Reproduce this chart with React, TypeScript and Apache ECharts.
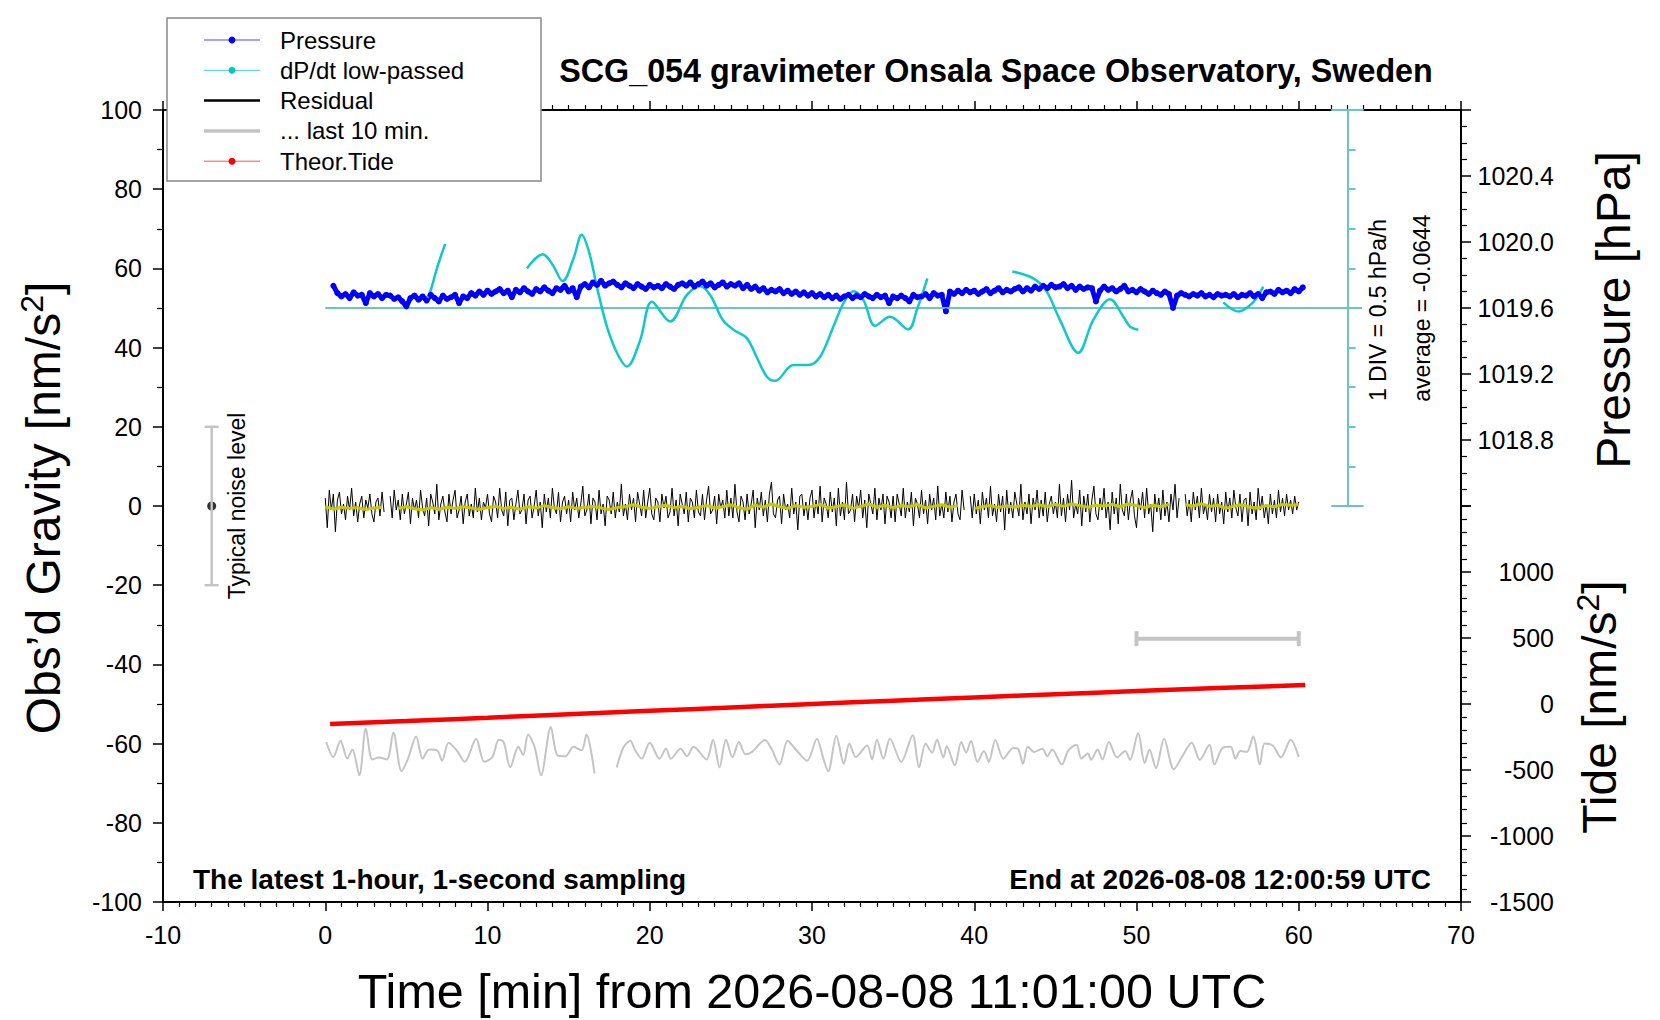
import { useEffect, useRef } from "react";
import * as echarts from "echarts";

const FONT = "Liberation Sans";

// residual, 1 value per 7.5 s (null = data gap)
const RESID_STEP = 0.125;
const residual: (number | null)[] = [
  2, -5.5, 4, -1, 3, -6.5, 1.5, 3.5, -2, 0.5, -3.5, 2.5, -1, 4.5, -2.5, 1, -4, 0.5, 2.5, -3, 1.5, -0.5, 3, -2, -4, 1, 2, -2.5, 3.5, -1.5, null, null, 2.5, -3, 4, -1, 1.5, -3.5, 3, -2,
  0.5, 3.5, -4.5, 2, -1, 1.5, -3, 4, -0.5, -2.5, 2, -5, 3, 1, -2, 5.5, -3.5, 0.5, 2.5, -1.5, -4, 3, -2, 1.5, 4, -3, -1, 2.5, -4.5, 1, 3, -2.5, 0.5, -3, 4.5, -1.5, 2, -3.5, 1, -0.5,
  3, -2, -4, 2.5, 1, -3, 4.5, -1, -2.5, 3.5, -5, 1.5, 2, -3.5, 0.5, 4, -2, -1, 3, -4.5, 1.5, 2.5, -3, 0, 4, -2.5, 1, -5.5, 3, -1.5, 2, -3, 4.5, -0.5, -2, 3.5, -4, 1, 2.5, -2,
  1.5, -4, 3.5, -1, 2, -3, 0.5, 5, -2.5, -1, 3, -4.5, 2, 1, -3.5, 4, -2, 0.5, -5, 2.5, 1.5, -2, 3.5, -3, 1, -1.5, 5.5, -2.5, 0.5, -3.5, 3, -1, 2, -4, 3.5, 0.5, -2.5, 4, -3, 1,
  4.5, -2, -3.5, 2, 1, -4, 3, -0.5, 2.5, -3, -1.5, 4.5, -2.5, 1.5, -5, 3, 0.5, -2, 3.5, -4, 2, 1, -3, 4, -1.5, -2.5, 3, -3.5, 1.5, 5, -2, -1, 2.5, -4.5, 3, -0.5, 1.5, -3, 4, -2.5,
  2, -3, 5.5, -1.5, -4, 2.5, 1, -3.5, 3, -2, 0.5, 4, -5.5, 2, -1, 3.5, -2.5, 1.5, -4, 3, 6, -2, -3, 1.5, 2.5, -4.5, 3, -1, 0.5, -3, 4.5, -2, 1, -6, 2.5, 3, -2.5, 1, -3.5, 2,
  4, -3, 1.5, -2, 5, -4, 2, 0.5, -3, 3.5, -1.5, 2, -5, 4.5, -2.5, 1, -3.5, 6, -2, -1, 3, -4, 2.5, -0.5, 4, -3, 1.5, -5.5, 3, 0.5, -2, 4.5, -3.5, 2, -1, 3, -4.5, 2.5, 1, -3,
  2.5, -4, 3, 0.5, -2.5, 4.5, -3, 1, -1.5, 3.5, -5, 2, 0.5, -3, 4, -2, 1.5, -4.5, 3, -1, 2, -3.5, 5, -2.5, 0.5, -3, 3.5, -1.5, 2.5, -4, 1, 3, -2, -3.5, 4, -1, null, null, 2.5, -3,
  3, -2, 1.5, -4.5, 3.5, -1, 2, -3, 5, -2.5, 0.5, -4, 3, -1.5, 2.5, -6, 4, -2, 1, -3, 3.5, 0.5, -2.5, 5.5, -3.5, 1, -2, 3, -4.5, 2, -1, 4, -3, 1.5, -2.5, 3.5, -4, 0.5, 2.5, -2,
  1, -3, 5.5, -2.5, 2, -4, 3, -1, 6.5, -3, 0.5, -2, 4, -5, 2.5, -1.5, 3, -4, 1.5, 5, -2, -3.5, 2, -1, 4.5, -3, 1, -6, 3.5, -2, 2, -4.5, 5.5, -1, -2.5, 3, -3.5, 1.5, 4, -2.5,
  -5.5, 2, -1, 3.5, -3, 4.5, -2, 0.5, -6.5, 3, -1.5, 2, -3.5, 4, -2.5, 1, -4, 3, -1, 5.5, -3, 2, null, null, 3, -2.5, 1.5, -4, 3.5, -1, 2.5, -3, 4.5, -2, 0.5, -3.5, 3, -1.5, 2, -4,
  3, -2, 1, -4.5, 3.5, -1.5, 2, -3, 4, -0.5, -2.5, 3, -4, 1.5, 2, -5, 3.5, -2, 1, -3.5, 4.5, -1, 2.5, -3, 0.5, -4.5, 3, -2, 1.5, -3, 4, -1.5, 2, -2.5, 3, -1, 1.5, -2, 2.5, -1,
  1,
];

// low-passed residual, 1 value per 30 s
const SMOOTH_STEP = 0.5;
const residualSmooth: (number | null)[] = [
  -0.2, -0.8, -0.3, -0.6, -0.4, -0.9, -0.5, -0.3, null, -0.6, -0.2, -0.7, -1.0, -0.4, -0.8, -0.3, -0.6, -0.2, -0.5, -0.9,
  -0.4, -0.1, -0.6, -0.3, -0.8, -0.2, -0.5, 0.1, -0.4, -0.7, -0.2, -0.6, -0.3, -0.1, -0.5, -0.9, -0.4, -0.2, 0.3, -0.3,
  -0.6, -0.2, 0.2, -0.4, -0.1, -0.7, -0.3, 0.1, -0.5, -0.2, 0.3, -0.4, -0.8, 0.2, -0.3, 0.5, -0.2, -0.6, 0.1, -0.3,
  -0.1, 0.4, -0.5, -0.2, 0.3, -0.6, -0.1, 0.5, -0.3, 0.2, -0.4, 0.1, -0.2, 0.4, -0.5, -0.1, 0.3, -0.3, 0.1, null,
  -0.6, -0.2, 0.1, -0.4, 0.0, -0.3, 0.2, -0.1, 0.3, -0.2, 0.4, -0.1, 0.5, 0.1, -0.3, 0.2, 0.0, 0.4, -0.2, 0.5,
  0.1, -0.4, 0.2, -0.2, 0.4, null, 0.3, 0.0, 0.6, -0.1, 0.2, -0.6, 0.0, 0.3, -0.3, -0.5, 0.1, -0.2, 0.4, 0.2,
  0.3,
];

// air pressure [hPa], from 0.5 min every 15 s
const PRESS_START = 0.5;
const PRESS_STEP = 0.25;
const pressure: number[] = [
  1019.735, 1019.69, 1019.67, 1019.685, 1019.66, 1019.695, 1019.675, 1019.68, 1019.63, 1019.69, 1019.67, 1019.685, 1019.66, 1019.68, 1019.675, 1019.655, 1019.665, 1019.64, 1019.61, 1019.66,
  1019.675, 1019.65, 1019.67, 1019.645, 1019.68, 1019.66, 1019.64, 1019.675, 1019.655, 1019.665, 1019.68, 1019.63, 1019.67, 1019.66, 1019.69, 1019.675, 1019.7, 1019.68, 1019.705, 1019.685,
  1019.7, 1019.715, 1019.69, 1019.705, 1019.665, 1019.71, 1019.695, 1019.72, 1019.7, 1019.685, 1019.715, 1019.7, 1019.725, 1019.705, 1019.69, 1019.72, 1019.71, 1019.735, 1019.7, 1019.72,
  1019.665, 1019.73, 1019.745, 1019.725, 1019.755, 1019.74, 1019.765, 1019.735, 1019.75, 1019.76, 1019.74, 1019.725, 1019.75, 1019.735, 1019.72, 1019.745, 1019.73, 1019.715, 1019.74, 1019.725,
  1019.735, 1019.72, 1019.745, 1019.73, 1019.715, 1019.74, 1019.75, 1019.735, 1019.755, 1019.73, 1019.745, 1019.76, 1019.735, 1019.75, 1019.725, 1019.74, 1019.755, 1019.73, 1019.745, 1019.735,
  1019.75, 1019.72, 1019.74, 1019.715, 1019.73, 1019.705, 1019.72, 1019.695, 1019.71, 1019.7, 1019.715, 1019.69, 1019.705, 1019.685, 1019.7, 1019.68, 1019.695, 1019.675, 1019.69, 1019.67,
  1019.685, 1019.665, 1019.68, 1019.66, 1019.675, 1019.655, 1019.67, 1019.68, 1019.66, 1019.675, 1019.665, 1019.685, 1019.67, 1019.66, 1019.68, 1019.665, 1019.675, 1019.63, 1019.67, 1019.66,
  1019.675, 1019.66, 1019.64, 1019.68, 1019.665, 1019.67, 1019.685, 1019.66, 1019.69, 1019.675, 1019.68, 1019.58, 1019.7, 1019.685, 1019.705, 1019.69, 1019.71, 1019.695, 1019.705, 1019.685,
  1019.7, 1019.715, 1019.69, 1019.705, 1019.72, 1019.695, 1019.71, 1019.7, 1019.715, 1019.725, 1019.7, 1019.72, 1019.705, 1019.73, 1019.715, 1019.735, 1019.72, 1019.74, 1019.725, 1019.73,
  1019.745, 1019.72, 1019.735, 1019.71, 1019.73, 1019.715, 1019.725, 1019.72, 1019.64, 1019.705, 1019.73, 1019.71, 1019.72, 1019.7, 1019.715, 1019.735, 1019.7, 1019.71, 1019.695, 1019.715,
  1019.7, 1019.685, 1019.705, 1019.69, 1019.68, 1019.7, 1019.685, 1019.6, 1019.675, 1019.69, 1019.68, 1019.67, 1019.685, 1019.675, 1019.69, 1019.67, 1019.68, 1019.665, 1019.685, 1019.675,
  1019.68, 1019.67, 1019.685, 1019.665, 1019.68, 1019.675, 1019.69, 1019.67, 1019.685, 1019.66, 1019.695, 1019.7, 1019.685, 1019.71, 1019.695, 1019.705, 1019.69, 1019.715, 1019.7, 1019.725,
];

// dP/dt low-passed, drawn on the gravity scale around the 50 baseline
const dpdtSegments: [number, number][][] = [
  [[6.2, 51.5], [6.47, 54.1], [6.92, 60.5], [7.39, 66.2]],
  [
    [12.43, 60.0], [13.41, 63.6], [14.0, 61.0], [14.64, 56.8], [15.3, 62.5], [15.81, 68.5], [16.3, 63.5],
    [16.74, 55.4], [17.36, 45.3], [18.0, 38.5], [18.59, 35.2], [19.41, 41.9], [20.13, 51.6], [21.26, 46.6],
    [22.29, 53.3], [23.1, 55.5], [23.72, 53.3], [24.5, 47.0], [25.16, 44.5], [25.98, 42.4], [26.6, 37.5],
    [27.21, 32.7], [27.73, 31.6], [28.85, 35.6], [29.78, 35.6], [30.5, 37.7], [31.32, 45.3], [31.94, 51.2],
    [32.55, 54.2], [33.17, 52.0], [33.89, 45.5], [34.81, 47.8], [35.94, 44.6], [36.46, 49.5], [37.11, 57.5],
  ],
  [
    [42.35, 59.2], [43.64, 57.5], [44.46, 54.2], [45.28, 47.0], [46.41, 38.7], [47.34, 47.0],
    [48.37, 52.2], [49.19, 47.8], [49.6, 45.3], [50.11, 44.5],
  ],
  [[55.35, 51.4], [56.27, 49.1], [57.2, 51.5], [57.81, 55.4]],
];

// residual over the last 10 min, drawn offset at -60
const lastTenA: [number, number][] = [
  [0.06, -59.6], [0.5, -63.4], [0.94, -59.3], [1.36, -63.8], [1.67, -61.5], [2.1, -68], [2.5, -56.2], [2.9, -64],
  [3.3, -63.5], [3.8, -64], [4.2, -57.2], [4.7, -67], [5.1, -63.8], [5.6, -58.2], [6.0, -63.8], [6.4, -61.5],
  [6.9, -61.7], [7.2, -64.3], [7.6, -59.8], [8.1, -61.7], [8.6, -64.6], [9.3, -58.8], [9.8, -64.6], [10.3, -63.4],
  [10.7, -59], [11.0, -59.6], [11.4, -66], [11.9, -60.8], [12.2, -62.9], [12.5, -57.7], [12.9, -60.8], [13.3, -68],
  [13.9, -55.8], [14.3, -62.9], [14.8, -63.2], [15.3, -60.8], [15.8, -61.7], [16.1, -57.7], [16.6, -67.6],
];
const lastTenB: [number, number][] = [
  [17.96, -66], [18.4, -60.8], [18.8, -59.3], [19.1, -61.7], [19.5, -63.8], [20.0, -59.8], [20.6, -63.8], [21.0, -61.3],
  [21.3, -63.8], [21.9, -61.3], [22.3, -63.2], [22.7, -60.8], [23.5, -64], [23.9, -59], [24.3, -66], [24.7, -59],
  [25.1, -63.4], [25.5, -59.6], [25.9, -62.7], [26.3, -62.1], [27.1, -59.1], [27.5, -61.3], [28.0, -65.3], [28.5, -59.3],
  [29.0, -61.5], [29.7, -64.3], [30.3, -58.8], [30.7, -63.8], [31.0, -67], [31.5, -58], [31.96, -65.1], [32.3, -60],
  [32.7, -63.4], [33.4, -60.5], [33.7, -64], [34.0, -59], [34.4, -63.8], [34.8, -58.8], [35.5, -64.6], [36.2, -57.9],
  [36.6, -66], [37.0, -60], [37.4, -62.3], [37.7, -59], [38.1, -63.5], [38.3, -60.7], [38.8, -65.5], [39.2, -59.6],
  [39.5, -62.3], [39.8, -59.3], [40.2, -64.6], [40.6, -61.9], [40.9, -64.6], [41.3, -59.1], [41.8, -63.8], [42.4, -61.1],
  [42.7, -61.3], [43.0, -65.1], [43.3, -60.8], [43.7, -62.1], [44.2, -61.3], [44.5, -63.2], [44.8, -61.5], [45.4, -65.3],
  [45.8, -61.7], [46.3, -60.3], [46.6, -63.8], [47.0, -62.5], [47.2, -64.1], [47.6, -61.5], [47.9, -64], [48.3, -59.6],
  [48.8, -63.5], [49.3, -61.9], [49.6, -64.1], [50.1, -57.3], [50.5, -64.9], [50.8, -61.5], [51.2, -66.2], [51.7, -58.8],
  [52.3, -66.5], [52.8, -63.4], [53.4, -59.8], [53.9, -64.1], [54.5, -60.3], [54.8, -65.3], [55.3, -61.1], [55.8, -60.8],
  [56.1, -63.8], [56.4, -61.9], [56.8, -62.1], [57.2, -58.2], [57.6, -65.3], [57.9, -60], [58.4, -60.5], [58.9, -63.5],
  [59.5, -59], [60.0, -63.4],
];

// theoretical tide [nm/s2]
const tideTimes = [0.3, 5, 10, 15, 20, 25, 30, 35, 40, 45, 50, 55, 60.4];
const tideValues = [-152, -129, -104, -78, -52, -26, 0, 25, 50, 74, 98, 121, 144];

const divTicks = [10, 20, 30, 40, 50, 60, 70, 80, 90];

const legendItems = [
  { label: "Pressure", line: "#4a4aff", width: 1, dot: "#0000ff" },
  { label: "dP/dt low-passed", line: "#40d0d0", width: 1, dot: "#00c8c8" },
  { label: "Residual", line: "#000000", width: 2.5, dot: "" },
  { label: "... last 10 min.", line: "#c4c4c4", width: 3.5, dot: "" },
  { label: "Theor.Tide", line: "#ff5050", width: 1, dot: "#ff0000" },
];

const GRID = { left: 163, right: 199 };
const LABEL_SIZE = 25;

function baseX(gridIndex: number, position: "bottom" | "top", show: boolean) {
  return {
    type: "value" as const,
    gridIndex,
    position,
    show,
    min: -10,
    max: 70,
    interval: 10,
    axisLine: { onZero: false, lineStyle: { color: "#000", width: 2 } },
    axisTick: { show: true, inside: false, length: 9, lineStyle: { color: "#000", width: 1.5 } },
    minorTick: { show: true, splitNumber: 10, length: 5, lineStyle: { color: "#000", width: 1.2 } },
    axisLabel: {
      show: position === "bottom",
      margin: 20,
      color: "#000",
      fontSize: LABEL_SIZE,
      fontFamily: FONT,
    },
    splitLine: { show: false },
  };
}

function buildOption(): echarts.EChartsOption {
  const seg = (x1: number, y1: number, x2: number, y2: number) => [
    { coord: [x1, y1] },
    { coord: [x2, y2] },
  ];
  const scaleLines = [
    seg(63, 0, 63, 100),
    seg(62, 100, 64, 100),
    seg(62, 0, 64, 0),
    ...divTicks.map((v) => seg(63, v, 63.5, v)),
  ];

  const axisCommonY = {
    axisLine: { show: true, onZero: false, lineStyle: { color: "#000", width: 2 } },
    axisTick: { show: true, inside: false, length: 10, lineStyle: { color: "#000", width: 1.5 } },
    splitLine: { show: false },
  };

  const txt = (
    text: string,
    x: number,
    y: number,
    size: number,
    opts: Record<string, unknown> = {},
  ) => ({
    type: "text",
    x,
    y,
    z: 50,
    rotation: (opts.rotation as number) ?? 0,
    style: {
      text,
      fontSize: size,
      fontFamily: FONT,
      fontWeight: (opts.weight as string) ?? "normal",
      fill: "#000",
      align: (opts.align as string) ?? "center",
      verticalAlign: "middle",
      rich: opts.rich,
    },
  });

  const legendGraphics: any[] = [
    {
      type: "rect",
      z: 90,
      shape: { x: 167, y: 18, width: 374, height: 163 },
      style: { fill: "#fff", stroke: "#888", lineWidth: 1.5 },
    },
  ];
  legendItems.forEach((item, i) => {
    const y = 40 + i * 30.3;
    legendGraphics.push({
      type: "line",
      z: 91,
      shape: { x1: 204, y1: y, x2: 260, y2: y },
      style: { stroke: item.line, lineWidth: item.width },
    });
    if (item.dot) {
      legendGraphics.push({
        type: "circle",
        z: 92,
        shape: { cx: 232, cy: y, r: 3.5 },
        style: { fill: item.dot },
      });
    }
    legendGraphics.push({
      type: "text",
      z: 92,
      x: 280,
      y,
      style: {
        text: item.label,
        fontSize: 24,
        fontFamily: FONT,
        fill: "#000",
        align: "left",
        verticalAlign: "middle",
      },
    });
  });

  const supRich = (big: number, small: number) => ({
    a: { fontSize: big, fontFamily: FONT, lineHeight: big + 6, fill: "#000" },
    s: { fontSize: small, fontFamily: FONT, lineHeight: small, verticalAlign: "top", fill: "#000" },
  });

  return {
    animation: false,
    backgroundColor: "#fff",
    textStyle: { fontFamily: FONT },
    grid: [
      { ...GRID, top: 110, height: 792 },
      { ...GRID, top: 110, height: 396 },
      { ...GRID, top: 506, height: 396 },
    ],
    xAxis: [
      baseX(0, "bottom", true),
      baseX(0, "top", true),
      baseX(1, "bottom", false),
      baseX(2, "bottom", false),
    ] as any,
    yAxis: [
      {
        type: "value",
        gridIndex: 0,
        position: "left",
        min: -100,
        max: 100,
        interval: 20,
        ...axisCommonY,
        minorTick: { show: true, splitNumber: 2, length: 6, lineStyle: { color: "#000", width: 1.2 } },
        axisLabel: { margin: 21, color: "#000", fontSize: LABEL_SIZE, fontFamily: FONT },
      },
      {
        type: "value",
        gridIndex: 1,
        position: "right",
        min: 1018.4,
        max: 1020.8,
        interval: 0.4,
        ...axisCommonY,
        minorTick: { show: true, splitNumber: 4, length: 6, lineStyle: { color: "#000", width: 1.2 } },
        axisLabel: {
          margin: 93,
          align: "right",
          color: "#000",
          fontSize: LABEL_SIZE,
          fontFamily: FONT,
          formatter: (v: number) => (v > 1018.6 && v < 1020.6 ? v.toFixed(1) : ""),
        },
      },
      {
        type: "value",
        gridIndex: 2,
        position: "right",
        min: -1500,
        max: 1500,
        interval: 500,
        ...axisCommonY,
        minorTick: { show: true, splitNumber: 5, length: 6, lineStyle: { color: "#000", width: 1.2 } },
        axisLabel: {
          margin: 93,
          align: "right",
          color: "#000",
          fontSize: LABEL_SIZE,
          fontFamily: FONT,
          formatter: (v: number) => (v <= 1000 ? String(Math.round(v)) : ""),
        },
      },
    ] as any,
    series: [
      {
        name: "... last 10 min.",
        type: "line",
        xAxisIndex: 0,
        yAxisIndex: 0,
        data: lastTenA,
        smooth: 0.3,
        showSymbol: false,
        symbol: "none",
        lineStyle: { color: "#c4c4c4", width: 2 },
      },
      {
        name: "... last 10 min.",
        type: "line",
        xAxisIndex: 0,
        yAxisIndex: 0,
        data: lastTenB,
        smooth: 0.3,
        showSymbol: false,
        symbol: "none",
        lineStyle: { color: "#c4c4c4", width: 2 },
      },
      {
        name: "10 min bar",
        type: "line",
        xAxisIndex: 0,
        yAxisIndex: 0,
        data: [
          [50, -33.5],
          [60, -33.5],
        ],
        symbol: "rect",
        symbolSize: [4, 15],
        itemStyle: { color: "#c4c4c4" },
        lineStyle: { color: "#c4c4c4", width: 4 },
      },
      {
        name: "Typical noise level",
        type: "line",
        xAxisIndex: 0,
        yAxisIndex: 0,
        data: [
          [-7, 20],
          [-7, -20],
        ],
        symbol: "rect",
        symbolSize: [14, 2.5],
        itemStyle: { color: "#c4c4c4" },
        lineStyle: { color: "#c4c4c4", width: 2.5 },
      },
      {
        name: "noise centre",
        type: "scatter",
        xAxisIndex: 0,
        yAxisIndex: 0,
        data: [[-7, 0]],
        symbolSize: 9,
        itemStyle: { color: "#000" },
      },
      {
        name: "Theor.Tide",
        type: "line",
        xAxisIndex: 3,
        yAxisIndex: 2,
        data: tideTimes.map((t, i) => [t, tideValues[i]]),
        smooth: true,
        showSymbol: false,
        symbol: "none",
        lineStyle: { color: "#ff0000", width: 4.5 },
      },
      {
        name: "Residual",
        type: "line",
        xAxisIndex: 0,
        yAxisIndex: 0,
        data: residual.map((v, i) => [i * RESID_STEP, v === null ? "-" : v]),
        showSymbol: false,
        symbol: "none",
        lineStyle: { color: "#000", width: 1 },
      },
      {
        name: "Residual low-passed",
        type: "line",
        xAxisIndex: 0,
        yAxisIndex: 0,
        data: residualSmooth.map((v, i) => [i * SMOOTH_STEP, v === null ? "-" : v]),
        showSymbol: false,
        symbol: "none",
        lineStyle: { color: "#c8c800", width: 3 },
      },
      {
        name: "Pressure",
        type: "line",
        xAxisIndex: 2,
        yAxisIndex: 1,
        data: pressure.map((p, i) => [PRESS_START + i * PRESS_STEP, p]),
        symbol: "circle",
        showSymbol: true,
        symbolSize: 6,
        itemStyle: { color: "#0000ff" },
        lineStyle: { color: "#0000ff", width: 5 },
      },
      {
        name: "dP/dt baseline",
        type: "line",
        xAxisIndex: 0,
        yAxisIndex: 0,
        data: [
          [0, 50],
          [63.9, 50],
        ],
        showSymbol: false,
        symbol: "none",
        lineStyle: { color: "#6cc4c4", width: 2 },
        markLine: {
          silent: true,
          symbol: ["none", "none"],
          label: { show: false },
          lineStyle: { color: "#6cc4c4", width: 2, type: "solid" },
          data: scaleLines as any,
        },
      },
      ...dpdtSegments.map((s) => ({
        name: "dP/dt low-passed",
        type: "line" as const,
        xAxisIndex: 0,
        yAxisIndex: 0,
        data: s,
        smooth: 0.35,
        showSymbol: false,
        symbol: "none",
        lineStyle: { color: "#10c8c8", width: 2.5 },
      })),
    ] as any,
    graphic: [
      txt("SCG_054 gravimeter Onsala Space Observatory, Sweden", 996, 71, 32.3, { weight: "bold" }),
      txt("The latest 1-hour, 1-second sampling", 193, 879, 28, { weight: "bold", align: "left" }),
      txt("End at 2026-08-08 12:00:59 UTC", 1431, 879, 28, { weight: "bold", align: "right" }),
      txt("Time [min] from 2026-08-08 11:01:00 UTC", 812, 991, 48.5),
      txt("{a|Obs’d Gravity [nm/s}{s|2}{a|]}", 43, 508, 48, {
        rotation: Math.PI / 2,
        rich: supRich(48, 32),
      }),
      txt("Pressure [hPa]", 1613, 310, 48, { rotation: Math.PI / 2 }),
      txt("{a|Tide [nm/s}{s|2}{a|]}", 1599, 707, 48, {
        rotation: Math.PI / 2,
        rich: supRich(48, 32),
      }),
      txt("Typical noise level", 237, 506, 23, { rotation: Math.PI / 2 }),
      txt("1 DIV = 0.5 hPa/h", 1378, 310, 23, { rotation: Math.PI / 2 }),
      txt("average = -0.0644", 1422, 308, 23, { rotation: Math.PI / 2 }),
      ...legendGraphics,
    ] as any,
  };
}

export default function App() {
  const nodeRef = useRef<HTMLDivElement | null>(null);

  useEffect(() => {
    if (!nodeRef.current) return;
    const chart = echarts.init(nodeRef.current, undefined, { renderer: "svg" });
    chart.setOption(buildOption());
    return () => chart.dispose();
  }, []);

  return (
    <div
      ref={nodeRef}
      style={{ position: "absolute", left: 0, top: 0, width: 1660, height: 1020, background: "#fff" }}
    />
  );
}
